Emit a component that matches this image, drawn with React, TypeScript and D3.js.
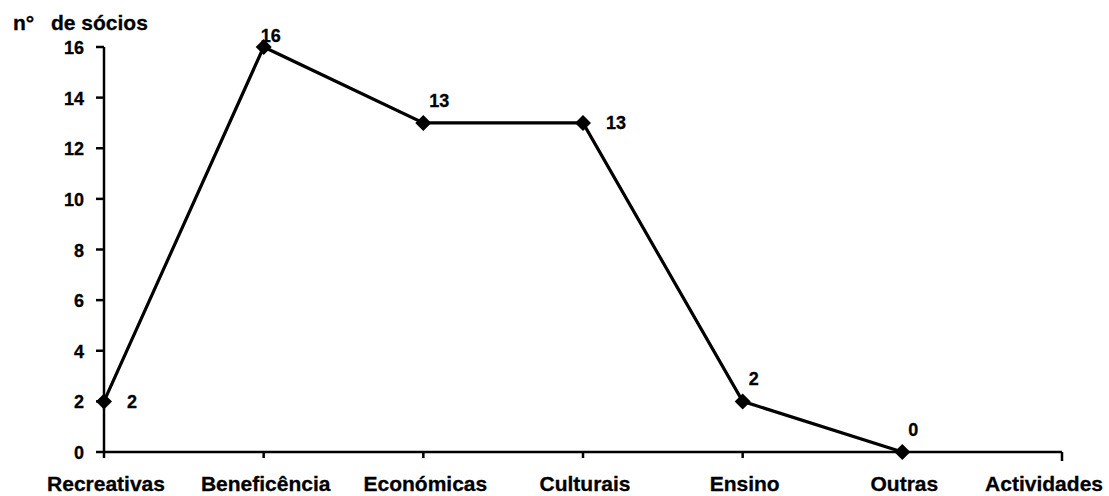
import React from "react";
import * as d3 from "d3";

const categories = ["Recreativas", "Beneficência", "Económicas", "Culturais", "Ensino", "Outras"];
const values = [2, 16, 13, 13, 2, 0];
const labelPlacement = ["right", "top", "above", "right", "above", "above"];
const yTicks = [0, 2, 4, 6, 8, 10, 12, 14, 16];
const yTitleA = "n°";
const yTitleB = "de sócios";
const xTitle = "Actividades";

const W = 1109;
const H = 496;
const FONT = "'Liberation Sans', Arial, sans-serif";

export default function App() {
  const x = d3.scaleLinear().domain([0, 6]).range([104, 1062]);
  const y = d3.scaleLinear().domain([0, 16]).range([452, 47]);
  const line = d3
    .line<number>()
    .x((_, i) => x(i))
    .y((d) => y(d));

  const offsets: Record<string, [number, number]> = {
    right: [23, 6.5],
    top: [-3, -5],
    above: [6, -16],
  };

  const T = (props: {
    x: number;
    y: number;
    size: number;
    anchor?: string;
    children: React.ReactNode;
  }) => (
    <text
      x={props.x}
      y={props.y}
      fontFamily={FONT}
      fontWeight="bold"
      fontSize={props.size}
      textAnchor={props.anchor || "start"}
      fill="#000"
      stroke="#000"
      strokeWidth={0.3}
    >
      {props.children}
    </text>
  );

  return (
    <svg
      width={W}
      height={H}
      style={{ position: "absolute", left: 0, top: 0, background: "#fff" }}
    >
      <rect x={0} y={0} width={W} height={H} fill="#fff" />
      {/* y axis */}
      <line x1={104} x2={104} y1={y(0)} y2={y(16)} stroke="#000" strokeWidth={2.5} />
      {yTicks.map((t) => (
        <g key={t}>
          <line x1={96} x2={104} y1={y(t)} y2={y(t)} stroke="#000" strokeWidth={2.5} />
          <T x={84} y={y(t) + 7} size={18} anchor="end">
            {t}
          </T>
        </g>
      ))}
      {/* x axis */}
      <line x1={x(0)} x2={x(6)} y1={y(0)} y2={y(0)} stroke="#000" strokeWidth={2.5} />
      {d3.range(0, 7).map((i) => (
        <line
          key={i}
          x1={x(i)}
          x2={x(i)}
          y1={y(0)}
          y2={y(0) + (i === 6 ? 9 : 6)}
          stroke="#000"
          strokeWidth={2.5}
        />
      ))}
      {categories.map((c, i) => (
        <T key={c} x={x(i) + 2} y={491} size={21} anchor="middle">
          {c}
        </T>
      ))}
      <T x={1103} y={491} size={21} anchor="end">
        {xTitle}
      </T>
      <T x={13} y={30} size={21}>
        {yTitleA}
      </T>
      <T x={51} y={30} size={21}>
        {yTitleB}
      </T>
      {/* series */}
      <path d={line(values) || ""} fill="none" stroke="#000" strokeWidth={3.2} />
      {values.map((v, i) => (
        <path
          key={i}
          d="M0,-8L8,0L0,8L-8,0Z"
          transform={`translate(${x(i)},${y(v)})`}
          fill="#000"
        />
      ))}
      {values.map((v, i) => {
        const [dx, dy] = offsets[labelPlacement[i]];
        return (
          <T key={"l" + i} x={x(i) + dx} y={y(v) + dy} size={18}>
            {v}
          </T>
        );
      })}
    </svg>
  );
}
